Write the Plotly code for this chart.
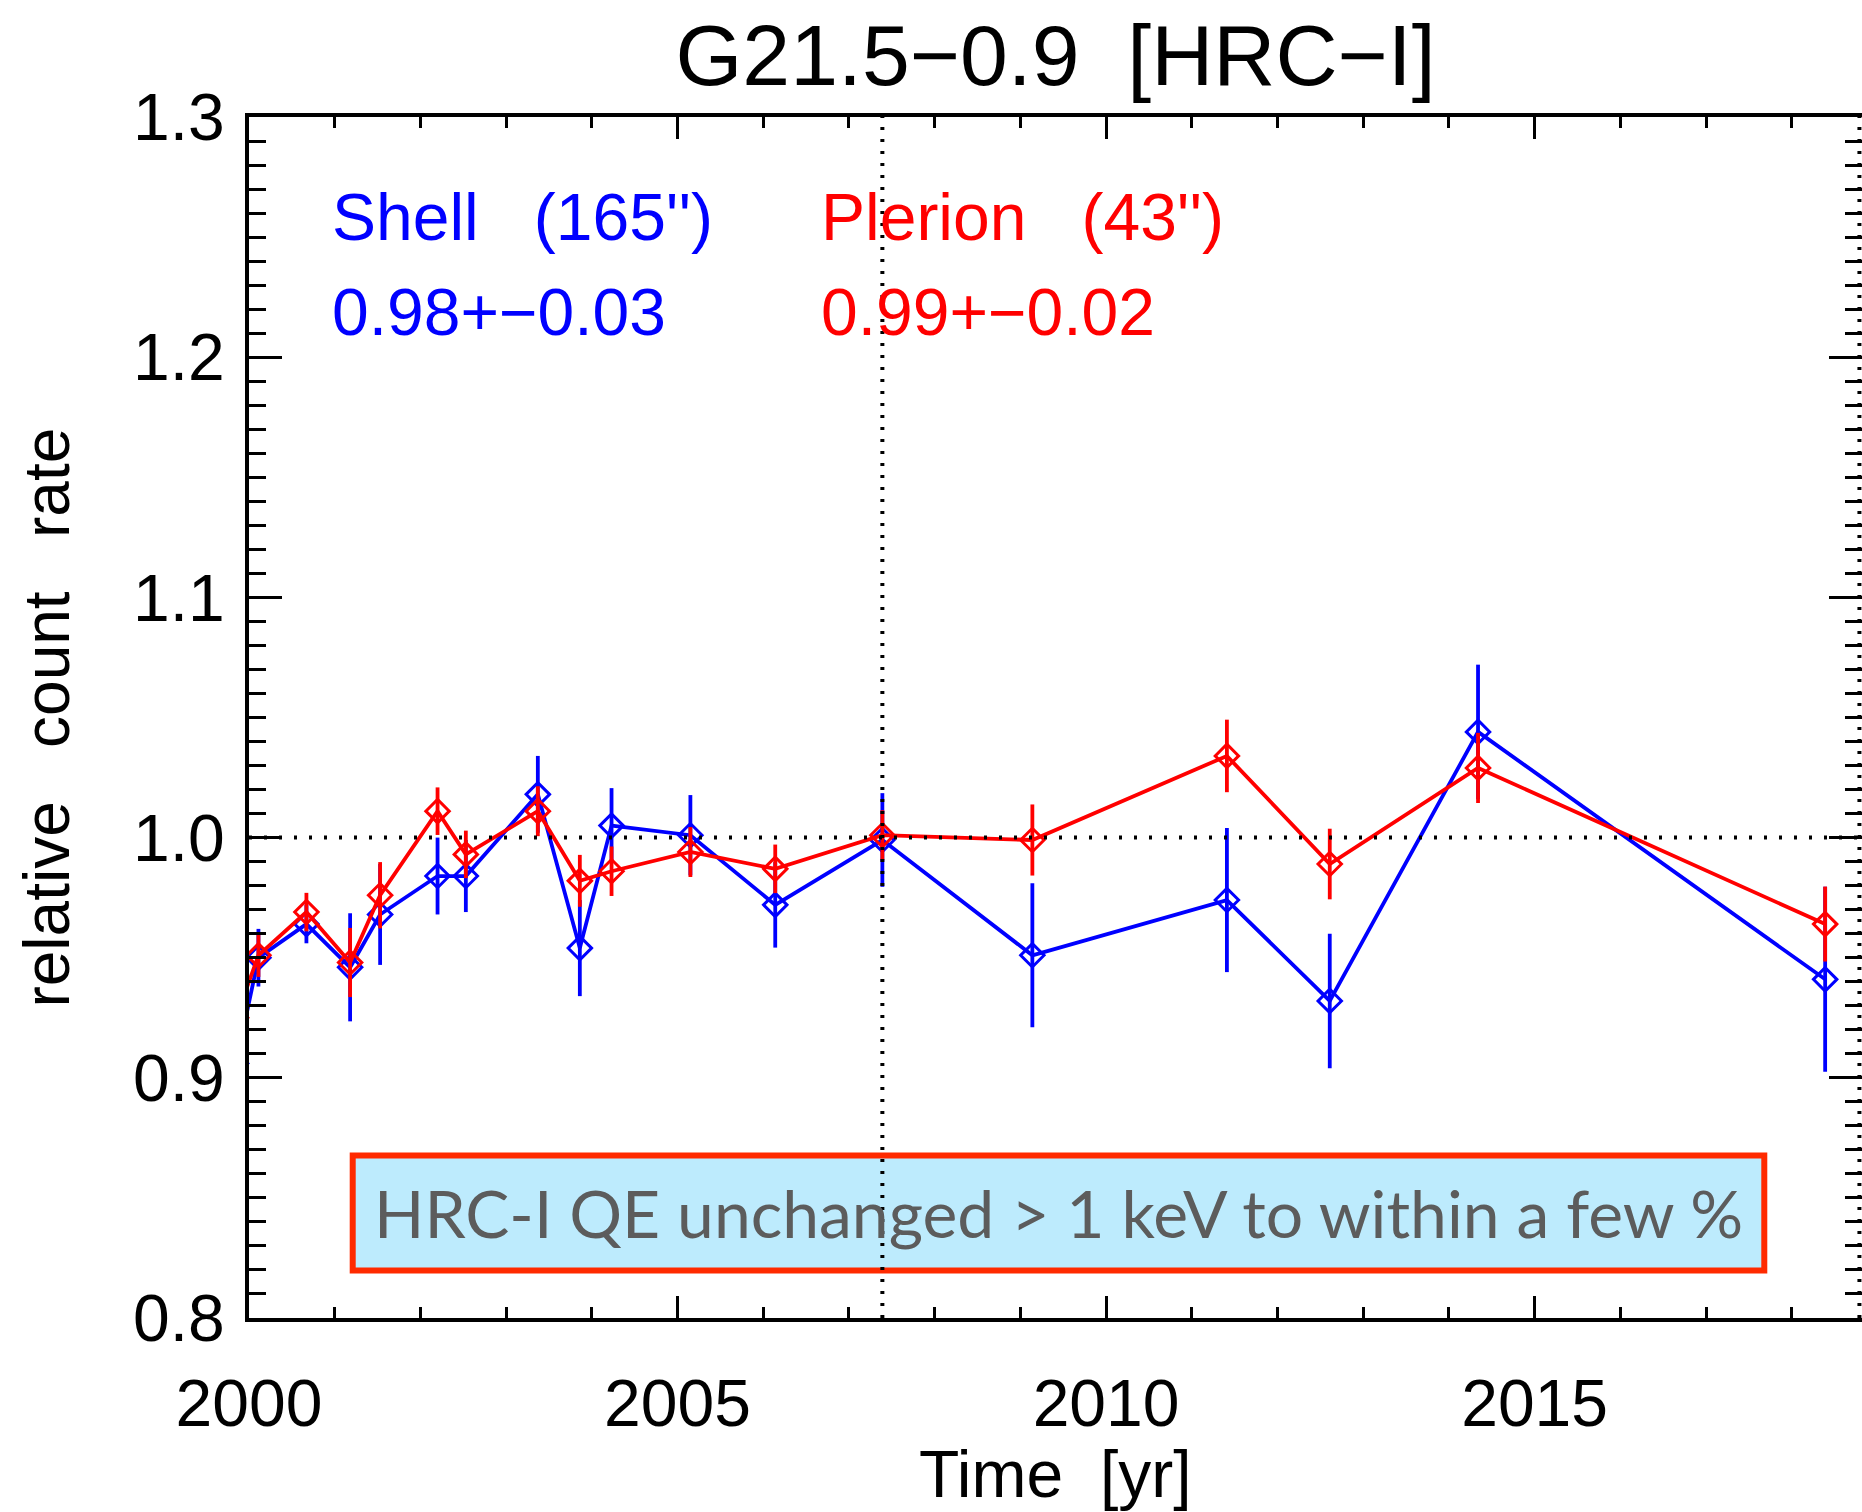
import plotly.graph_objects as go

# ---------------- data ----------------
years = [1999.85, 2000.11, 2000.67, 2001.18, 2001.53, 2002.20, 2002.53, 2003.37, 2003.86,
         2004.23, 2005.15, 2006.14, 2007.39, 2009.14, 2011.41, 2012.61, 2014.34, 2018.39]
shell = [0.906, 0.950, 0.964, 0.946, 0.968, 0.984, 0.984, 1.018, 0.954,
         1.005, 1.001, 0.972, 0.999, 0.951, 0.974, 0.932, 1.044, 0.941]
shell_err = [0.020, 0.012, 0.008, 0.0225, 0.021, 0.016, 0.015, 0.016, 0.020,
             0.0156, 0.0167, 0.0178, 0.0195, 0.030, 0.030, 0.028, 0.028, 0.0385]
plerion = [0.925, 0.951, 0.969, 0.948, 0.976, 1.011, 0.993, 1.011, 0.982,
           0.986, 0.994, 0.987, 1.001, 0.999, 1.034, 0.989, 1.029, 0.964]
plerion_err = [0.012, 0.009, 0.008, 0.0144, 0.0138, 0.0099, 0.0099, 0.0104, 0.0108,
               0.0103, 0.0104, 0.0101, 0.0104, 0.0148, 0.0151, 0.0147, 0.0146, 0.0156]

x_ticks = [2000, 2005, 2010, 2015]
y_ticks = [0.8, 0.9, 1.0, 1.1, 1.2, 1.3]
ref_level = 1.0
ref_dates = [2007.39, 2018.79]

title_text = "G21.5\u22120.9\u00a0 [HRC\u2212I]"
x_title = "Time\u00a0 [yr]"
y_title = "relative\u00a0\u00a0 count\u00a0\u00a0 rate"
shell_label = ["Shell\u00a0\u00a0 (165'')", "0.98+\u22120.03"]
plerion_label = ["Plerion\u00a0\u00a0 (43'')", "0.99+\u22120.02"]
box_text = "HRC-I QE unchanged > 1 keV to within a few %"

FONT = "Liberation Sans, Arial, sans-serif"
BLUE = "#0000ff"
RED = "#ff0000"

fig = go.Figure()

for yv, err, col in [(shell, shell_err, BLUE), (plerion, plerion_err, RED)]:
    fig.add_trace(go.Scatter(
        x=years, y=yv, mode="lines+markers",
        line=dict(color=col, width=3.8),
        marker=dict(symbol="diamond-open", size=18, color=col, line=dict(color=col, width=3)),
        error_y=dict(type="data", array=err, visible=True, color=col, thickness=3.8, width=0),
        cliponaxis=True, showlegend=False,
    ))

# info box (below traces)
fig.add_shape(type="rect", xref="x", yref="y", x0=2001.21, x1=2017.68, y0=0.8198, y1=0.8677,
              fillcolor="#bdebfd", line=dict(color="#ff2a00", width=6), layer="below")
fig.add_annotation(x=2009.44, y=0.8438, xref="x", yref="y", text=box_text, showarrow=False,
                   font=dict(family="Lato, Noto Sans, sans-serif", size=66, color="#5c5c5c"),
                   xanchor="center", yanchor="middle")

# dotted reference lines (on top)
fig.add_shape(type="line", xref="paper", yref="y", x0=0, x1=1, y0=ref_level, y1=ref_level,
              line=dict(color="black", width=4, dash="3px,12px"), layer="above")
for d in ref_dates:
    fig.add_shape(type="line", xref="x", yref="paper", x0=d, x1=d, y0=0, y1=1,
                  line=dict(color="black", width=4, dash="3px,9px"), layer="above")

# legend-like labels
for txt, yy in zip(shell_label, [1.2585, 1.2187]):
    fig.add_annotation(x=2000.94, y=yy, xref="x", yref="y", text=txt, showarrow=False,
                       xanchor="left", yanchor="middle",
                       font=dict(family=FONT, size=66, color=BLUE))
for txt, yy in zip(plerion_label, [1.2585, 1.2187]):
    fig.add_annotation(x=2006.65, y=yy, xref="x", yref="y", text=txt, showarrow=False,
                       xanchor="left", yanchor="middle",
                       font=dict(family=FONT, size=66, color=RED))

# axis titles
fig.add_annotation(x=0.5, y=-0.1295, xref="paper", yref="paper", text=x_title, showarrow=False,
                   xanchor="center", yanchor="middle",
                   font=dict(family=FONT, size=66, color="black"))
fig.add_annotation(x=-0.1258, y=0.5, xref="paper", yref="paper", text=y_title, showarrow=False,
                   xanchor="center", yanchor="middle", textangle=-90,
                   font=dict(family=FONT, size=64, color="black"))

axis_common = dict(
    showline=True, linecolor="black", linewidth=4, mirror="allticks",
    ticks="inside", tickcolor="black", tickwidth=3,
    showgrid=False, zeroline=False,
    tickfont=dict(family=FONT, size=66, color="black"),
)

fig.update_xaxes(
    range=[2000, 2018.82], tickvals=x_ticks, ticktext=[str(v) for v in x_ticks],
    ticklen=22, ticklabelstandoff=25,
    minor=dict(dtick=1, tick0=2000, ticks="inside", ticklen=11, tickwidth=3, tickcolor="black"),
    **axis_common,
)
fig.update_yaxes(
    range=[0.8, 1.3], tickvals=y_ticks, ticktext=[f"{v:.1f}" for v in y_ticks],
    ticklen=33, ticklabelstandoff=7,
    minor=dict(dtick=0.01, tick0=0.8, ticks="inside", ticklen=17, tickwidth=3, tickcolor="black"),
    **axis_common,
)

fig.update_layout(
    width=1862, height=1512,
    margin=dict(l=249, r=0, t=117, b=194, autoexpand=False),
    paper_bgcolor="white", plot_bgcolor="white",
    title=dict(text=title_text, x=0.5, xref="paper", y=1 - 55 / 1512, yanchor="middle",
               font=dict(family=FONT, size=86, color="black")),
)

fig.write_html("out.html")
